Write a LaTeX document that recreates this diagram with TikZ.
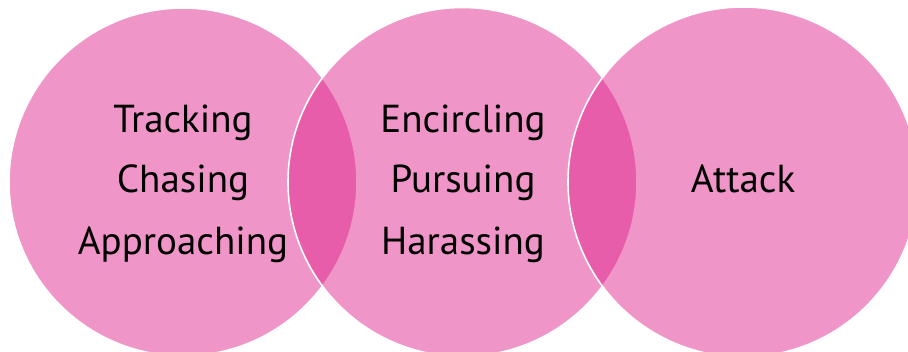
\documentclass[tikz,border=0pt]{standalone}
\usepackage{fontspec}
\setmainfont{PT Sans}
\begin{document}
\begin{tikzpicture}[x=1pt,y=1pt,
  stage/.style={fill={rgb,255:red,223;green,30;blue,137}, fill opacity=0.47,
                draw=white, line width=1.6pt},
  word/.style={anchor=base, inner sep=0pt, font=\fontsize{39}{39}\selectfont}]
  \useasboundingbox (0,0) rectangle (908,351);
  % three overlapping stages
  \path[stage] (183,169) circle (174);
  \path[stage] (462.5,169) circle (174.5);
  \path[stage] (743,169) circle (175);
  % labels
  \node[word] (t1) at (183,218) {Tracking};
  \node[word] (t2) at (183,158) {Chasing};
  \node[word] (t3) at (183,96) {Approaching};
  \node[word] (m1) at (463,218) {Encircling};
  \node[word] (m2) at (463,158) {Pursuing};
  \node[word] (m3) at (463,96) {Harassing};
  \node[word] (a1) at (743,158) {Attack};
\end{tikzpicture}
\end{document}
